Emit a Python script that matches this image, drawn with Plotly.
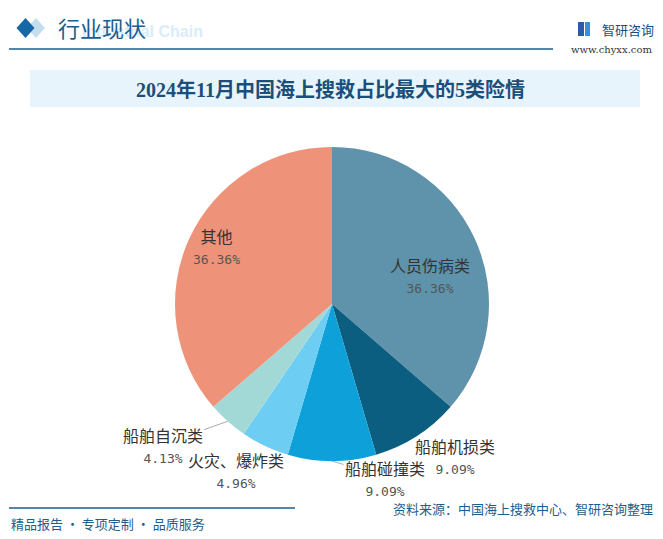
import math
import plotly.graph_objects as go

categories = ["人员伤病类", "船舶机损类", "船舶碰撞类", "火灾、爆炸类", "船舶自沉类", "其他"]
values = [36.36, 9.09, 9.09, 4.96, 4.13, 36.36]
pct_labels = ["36.36%", "9.09%", "9.09%", "4.96%", "4.13%", "36.36%"]
colors = ["#5E93AB", "#0B5E80", "#0EA1D9", "#6DCDF2", "#A2D9D7", "#EE937A"]

# label style: pixel offset of label centre from the slice's outer-edge midpoint, leader line flag
label_offsets = [(-45, 36), (38, 19), (53, 16), (-29, 24), (-65, 23), (27, 7)]
label_leader = [False, False, True, False, True, False]

W, H = 663, 539
FONT = "Noto Sans CJK SC"
BLUE = "#1B5E8E"

# pie geometry (pixels)
PIE_L, PIE_R, PIE_T, PIE_B = 175, 489, 147, 461
CX, CY = (PIE_L + PIE_R) / 2, (PIE_T + PIE_B) / 2
RAD = (PIE_R - PIE_L) / 2


def px(x):
    return x / W


def py(y):
    return 1 - y / H


fig = go.Figure()
fig.add_trace(go.Pie(
    labels=categories,
    values=values,
    sort=False,
    direction="clockwise",
    rotation=0,
    marker=dict(colors=colors, line=dict(width=0)),
    textinfo="none",
    hoverinfo="label+value",
    showlegend=False,
    automargin=False,
    domain=dict(x=[px(PIE_L), px(PIE_R)], y=[py(PIE_B), py(PIE_T)]),
))

annotations = []
total = sum(values)
cum = 0.0
for cat, val, pct, (dx, dy), leader in zip(categories, values, pct_labels, label_offsets, label_leader):
    mid = (cum + val / 2) / total * 2 * math.pi
    cum += val
    ex = CX + RAD * math.sin(mid)
    ey = CY - RAD * math.cos(mid)
    text = (f"{cat}<br><span style='font-family:DejaVu Sans Mono;color:#555555;font-size:13px'>{pct}</span>")
    if leader:
        annotations.append(dict(
            text=text, x=px(ex), y=py(ey), xref="paper", yref="paper",
            ax=dx, ay=dy, axref="pixel", ayref="pixel",
            showarrow=True, arrowhead=0, arrowwidth=1, arrowcolor="#AAAAAA", standoff=0,
            align="center", font=dict(family=FONT, size=16, color="#333333")))
    else:
        annotations.append(dict(
            text=text, x=px(ex + dx), y=py(ey + dy), xref="paper", yref="paper",
            xanchor="center", yanchor="middle", showarrow=False,
            align="center", font=dict(family=FONT, size=16, color="#333333")))


def diamond(cx, cy, hw, hh, color):
    return dict(type="path", xref="paper", yref="paper",
                path=f"M {px(cx)} {py(cy - hh)} L {px(cx + hw)} {py(cy)} L {px(cx)} {py(cy + hh)} L {px(cx - hw)} {py(cy)} Z",
                fillcolor=color, line=dict(width=0))


shapes = [
    diamond(36, 28, 9, 10, "#C5DEEE"),
    diamond(25.5, 28, 9, 10, "#1667A5"),
    dict(type="line", xref="paper", yref="paper", x0=px(9), x1=px(553), y0=py(49), y1=py(49),
         line=dict(color=BLUE, width=1.3)),
    dict(type="rect", xref="paper", yref="paper", x0=px(30), x1=px(640), y0=py(107), y1=py(70),
         fillcolor="#E8F4FB", line=dict(width=0)),
    dict(type="line", xref="paper", yref="paper", x0=px(9), x1=px(295), y0=py(508), y1=py(508),
         line=dict(color=BLUE, width=1.3)),
    dict(type="rect", xref="paper", yref="paper", x0=px(578), x1=px(584), y0=py(36), y1=py(22),
         fillcolor="#2A5CA8", line=dict(width=0)),
    dict(type="rect", xref="paper", yref="paper", x0=px(585), x1=px(590), y0=py(36), y1=py(22),
         fillcolor="#3A8FD6", line=dict(width=0)),
]

annotations += [
    dict(text="<b>Industrial Chain</b>", x=px(205), y=py(31), xref="paper", yref="paper",
         xanchor="right", yanchor="middle", showarrow=False,
         font=dict(family="Liberation Sans", size=16, color="#D9ECF8")),
    dict(text="行业现状", x=px(56), y=py(27), xref="paper", yref="paper",
         xanchor="left", yanchor="middle", showarrow=False,
         font=dict(family=FONT, size=22, color=BLUE)),
    dict(text="智研咨询", x=px(600), y=py(29), xref="paper", yref="paper",
         xanchor="left", yanchor="middle", showarrow=False,
         font=dict(family=FONT, size=13, color="#1B4F7A")),
    dict(text="www.chyxx.com", x=px(654), y=py(49), xref="paper", yref="paper",
         xanchor="right", yanchor="middle", showarrow=False,
         font=dict(family="DejaVu Serif", size=10, color="#333333")),
    dict(text="<b>2024年11月中国海上搜救占比最大的5类险情</b>", x=px(330), y=py(89),
         xref="paper", yref="paper", xanchor="center", yanchor="middle", showarrow=False,
         font=dict(family="Liberation Serif, Noto Sans CJK SC", size=20, color="#1B4F7A")),
    dict(text="资料来源：中国海上搜救中心、智研咨询整理", x=px(655), y=py(508), xref="paper", yref="paper",
         xanchor="right", yanchor="middle", showarrow=False,
         font=dict(family=FONT, size=13, color=BLUE)),
    dict(text="精品报告 · 专项定制 · 品质服务", x=px(9), y=py(523), xref="paper", yref="paper",
         xanchor="left", yanchor="middle", showarrow=False,
         font=dict(family=FONT, size=13, color=BLUE)),
]

fig.update_layout(
    width=W, height=H,
    margin=dict(l=0, r=0, t=0, b=0),
    paper_bgcolor="white",
    plot_bgcolor="white",
    shapes=shapes,
    annotations=annotations,
)

fig.write_html("out.html", config={"displayModeBar": False},
               post_script="document.body.style.margin='0';document.body.style.overflow='hidden';")
